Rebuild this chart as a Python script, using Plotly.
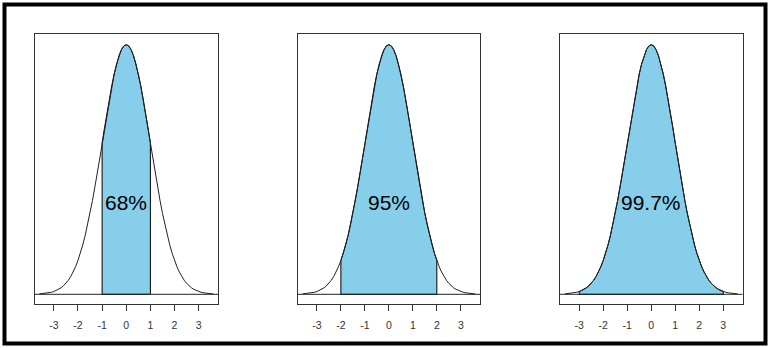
import plotly.graph_objects as go

# x grid and read-off normal density values
x_vals = [-3.6, -3.5, -3.4, -3.3, -3.2, -3.1, -3.0, -2.9, -2.8, -2.7, -2.6, -2.5,
          -2.4, -2.3, -2.2, -2.1, -2.0, -1.9, -1.8, -1.7, -1.6, -1.5, -1.4, -1.3,
          -1.2, -1.1, -1.0, -0.9, -0.8, -0.7, -0.6, -0.5, -0.4, -0.3, -0.2, -0.1,
          0.0, 0.1, 0.2, 0.3, 0.4, 0.5, 0.6, 0.7, 0.8, 0.9, 1.0, 1.1, 1.2, 1.3,
          1.4, 1.5, 1.6, 1.7, 1.8, 1.9, 2.0, 2.1, 2.2, 2.3, 2.4, 2.5, 2.6, 2.7,
          2.8, 2.9, 3.0, 3.1, 3.2, 3.3, 3.4, 3.5, 3.6]
density = [0.0006, 0.0009, 0.0012, 0.0017, 0.0024, 0.0033, 0.0044, 0.0060, 0.0079,
           0.0104, 0.0136, 0.0175, 0.0224, 0.0283, 0.0355, 0.0440, 0.0540, 0.0656,
           0.0790, 0.0940, 0.1109, 0.1295, 0.1497, 0.1714, 0.1942, 0.2179, 0.2420,
           0.2661, 0.2897, 0.3123, 0.3332, 0.3521, 0.3683, 0.3814, 0.3910, 0.3970,
           0.3989, 0.3970, 0.3910, 0.3814, 0.3683, 0.3521, 0.3332, 0.3123, 0.2897,
           0.2661, 0.2420, 0.2179, 0.1942, 0.1714, 0.1497, 0.1295, 0.1109, 0.0940,
           0.0790, 0.0656, 0.0540, 0.0440, 0.0355, 0.0283, 0.0224, 0.0175, 0.0136,
           0.0104, 0.0079, 0.0060, 0.0044, 0.0033, 0.0024, 0.0017, 0.0012, 0.0009,
           0.0006]

bounds = [1, 2, 3]
labels = ["68%", "95%", "99.7%"]
label_y = 0.1475
tick_vals = [-3, -2, -1, 0, 1, 2, 3]
tick_text = ["-3", "-2", "-1", "0", "1", "2", "3"]

W, H = 769, 348
FILL = "#87CEEB"

# panel pixel boxes (left, right)
panels_px = [(34.5, 218.0), (297.7, 480.0), (560.0, 742.5)]
top_px, bot_px = 34.0, 304.0

fig = go.Figure()

for i, b in enumerate(bounds):
    xa = "x" if i == 0 else f"x{i+1}"
    ya = "y" if i == 0 else f"y{i+1}"
    # shaded polygon between -b and b
    sx = [xv for xv in x_vals if -b - 1e-9 <= xv <= b + 1e-9]
    sy = [density[j] for j, xv in enumerate(x_vals) if -b - 1e-9 <= xv <= b + 1e-9]
    px = [sx[0]] + sx + [sx[-1], sx[0]]
    py = [0] + sy + [0, 0]
    fig.add_trace(go.Scatter(x=px, y=py, mode="lines", fill="toself",
                             fillcolor=FILL, line=dict(color="black", width=1),
                             xaxis=xa, yaxis=ya, showlegend=False, hoverinfo="skip"))
    # full curve
    fig.add_trace(go.Scatter(x=x_vals, y=density, mode="lines",
                             line=dict(color="#222", width=1),
                             xaxis=xa, yaxis=ya, showlegend=False, hoverinfo="skip"))
    # baseline
    fig.add_shape(type="line", xref=f"{xa} domain", yref=ya, x0=0, x1=1, y0=0, y1=0,
                  line=dict(color="#222", width=1))
    fig.add_annotation(x=0, y=label_y, xref=xa, yref=ya, text=labels[i], showarrow=False,
                       font=dict(family="Liberation Sans, Arial", size=21, color="black"))

    l, r = panels_px[i]
    axis_common = dict(showline=True, mirror=True, linecolor="#333", linewidth=1,
                       showgrid=False, zeroline=False)
    xname = "xaxis" if i == 0 else f"xaxis{i+1}"
    yname = "yaxis" if i == 0 else f"yaxis{i+1}"
    fig.layout[xname] = dict(domain=[l / W, r / W], range=[-3.8, 3.8], anchor=ya,
                             tickvals=tick_vals, ticktext=tick_text, ticks="outside",
                             ticklen=6, tickwidth=1, tickcolor="#333",
                             ticklabelstandoff=5,
                             tickfont=dict(family="Liberation Sans, Arial", size=10.5, color="#333"),
                             **axis_common)
    fig.layout[yname] = dict(domain=[1 - bot_px / H, 1 - top_px / H], range=[-0.0155, 0.416],
                             anchor=xa, showticklabels=False, ticks="", **axis_common)

# outer frame
fig.add_shape(type="rect", xref="paper", yref="paper",
              x0=4.5 / W, x1=765.5 / W, y0=1 - 343.5 / H, y1=1 - 4.5 / H,
              line=dict(color="black", width=4))

fig.update_layout(width=W, height=H, margin=dict(l=0, r=0, t=0, b=0),
                  paper_bgcolor="white", plot_bgcolor="white")

fig.write_html("out.html")
